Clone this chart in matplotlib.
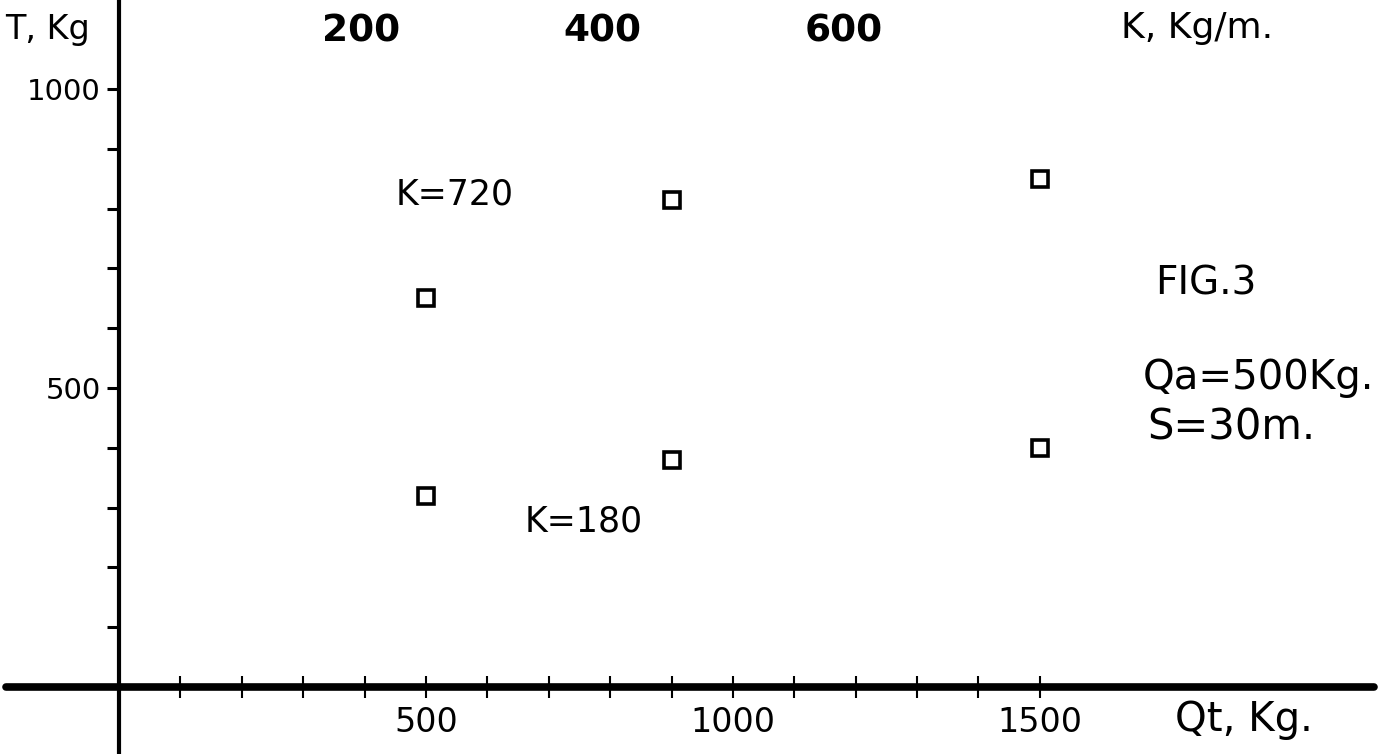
import matplotlib
matplotlib.use("Agg")
import matplotlib.pyplot as plt

# measured points (Qt in kg, T in kg)
QT = [500, 900, 1500]
T_K720 = [650, 815, 850]
T_K180 = [320, 380, 400]

X_TICKS = list(range(100, 1600, 100))
X_LABELS = [str(v) if v in (500, 1000, 1500) else "" for v in X_TICKS]
Y_TICKS = list(range(100, 1100, 100))
Y_LABELS = [str(v) if v in (500, 1000) else "" for v in Y_TICKS]
K_TICKS = [200, 400, 600]
K_PER_QT = 0.508          # top scale K (kg/m) vs Qt (kg)

plt.rcParams["font.family"] = ["DejaVu Sans"]

fig = plt.figure(figsize=(13.91, 7.54), dpi=100)
ax = fig.add_axes([0, 0, 1, 1])
ax.set_xlim(-194, 2072)
ax.set_ylim(-112, 1149)

ax.plot(QT, T_K720, ls="none", marker="s", ms=12, mfc="white", mec="black", mew=2.6)
ax.plot(QT, T_K180, ls="none", marker="s", ms=12, mfc="white", mec="black", mew=2.6)

for s in ("top", "right"):
    ax.spines[s].set_visible(False)
ax.spines["left"].set_position(("data", 0))
ax.spines["bottom"].set_position(("data", 0))
ax.spines["left"].set_linewidth(3)
ax.spines["bottom"].set_linewidth(5.5)
ax.spines["bottom"].set_bounds(-185, 2044)
ax.spines["bottom"].set_capstyle("round")

ax.set_xticks(X_TICKS, X_LABELS, fontsize=24)
ax.set_yticks(Y_TICKS, Y_LABELS, fontsize=21)
ax.tick_params(axis="x", direction="inout", length=16, width=1.5, pad=6)
ax.tick_params(axis="y", direction="out", length=9, width=2.2, pad=4)

top = ax.secondary_xaxis(0.935, functions=(lambda q: q * K_PER_QT,
                                           lambda k: k / K_PER_QT))
top.set_xticks(K_TICKS, [str(k) for k in K_TICKS], fontsize=27, fontweight="bold")
top.tick_params(axis="x", length=0, pad=0, top=True, labeltop=True,
                bottom=False, labelbottom=False)
top.spines[:].set_visible(False)

fig.text(5 / 1391, 1 - 30 / 754, "T, Kg", fontsize=24, va="center", ha="left")
fig.text(1121 / 1391, 1 - 28 / 754, "K, Kg/m.", fontsize=26, va="center", ha="left")
fig.text(1175 / 1391, 1 - 720 / 754, "Qt, Kg.", fontsize=29, va="center", ha="left")

ax.text(547, 823, "K=720", fontsize=25, va="center", ha="center")
ax.text(757, 276, "K=180", fontsize=25, va="center", ha="center")
fig.text(1155 / 1391, 1 - 283 / 754, "FIG.3", fontsize=28, va="center", ha="left")
fig.text(1143 / 1391, 1 - 378 / 754, "Qa=500Kg.", fontsize=29, va="center", ha="left")
fig.text(1147 / 1391, 1 - 428 / 754, "S=30m.", fontsize=30, va="center", ha="left")

fig.savefig("out.png", dpi=100, facecolor="white")
